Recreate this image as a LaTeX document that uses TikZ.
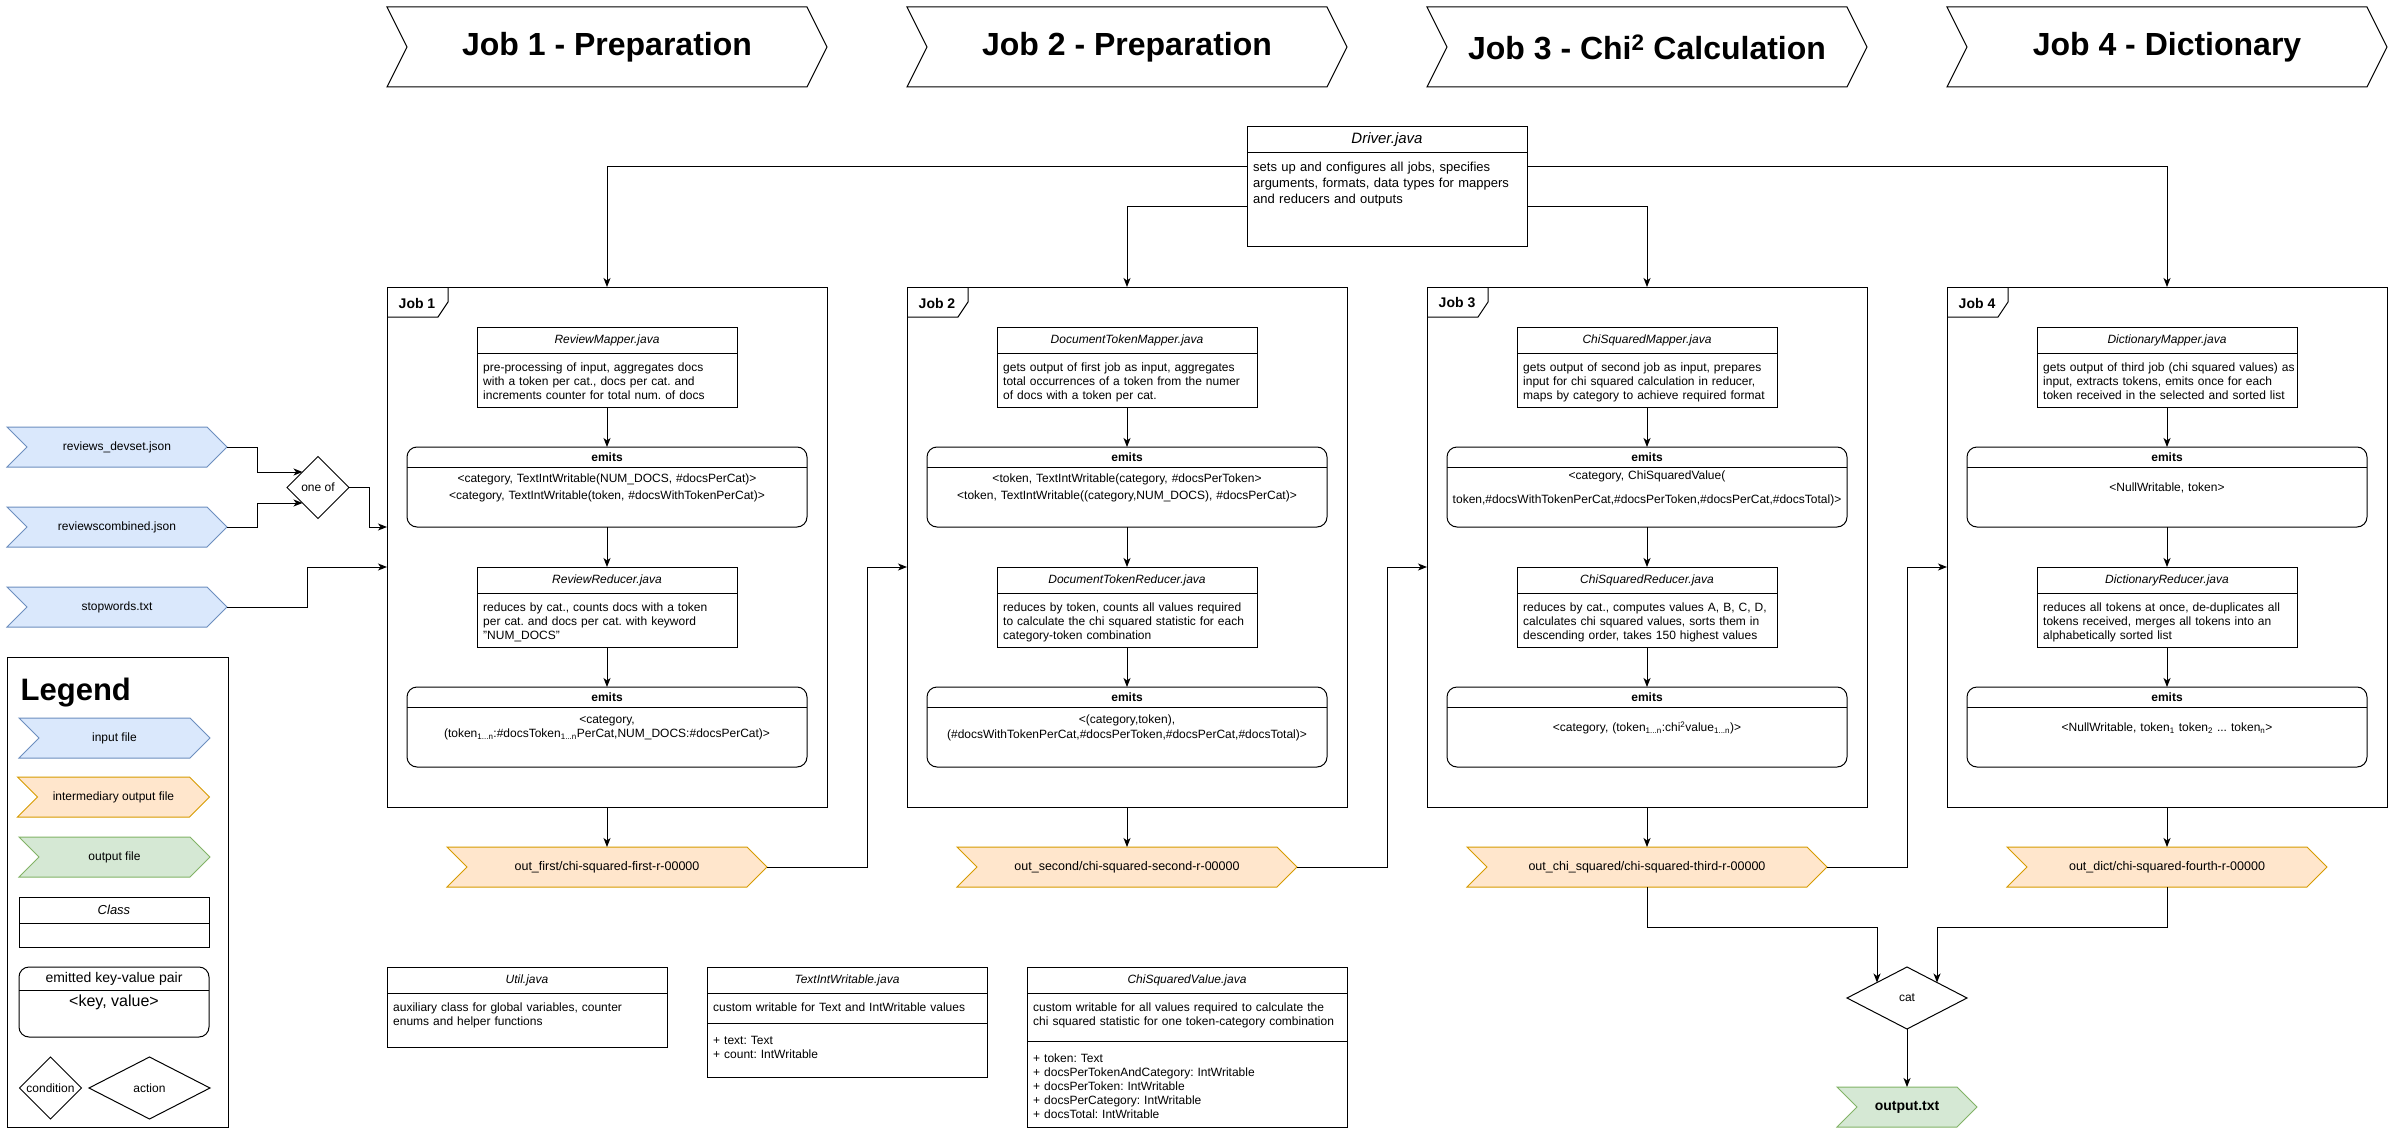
\documentclass[tikz,border=0pt]{standalone}
\usepackage{fontspec}
\setmainfont{Liberation Sans}
\frenchspacing
\usetikzlibrary{arrows.meta,shapes.geometric,backgrounds}
\definecolor{inf}{HTML}{DAE8FC}
\definecolor{inb}{HTML}{6C8EBF}
\definecolor{midf}{HTML}{FFE6CC}
\definecolor{midb}{HTML}{D79B00}
\definecolor{outf}{HTML}{D5E8D4}
\definecolor{outb}{HTML}{82B366}
\tikzset{
  ln/.style={line width=1pt},
  arr/.style={line width=1pt,-{Stealth[length=9pt,width=7pt,inset=2.5pt]}},
  cls/.style={draw,line width=1pt,fill=white,inner sep=0pt,outer sep=0pt,rectangle},
  emit/.style={cls,rounded corners=10pt},
  ttl/.style={font=\fontsize{12}{14}\selectfont\itshape,inner sep=0pt},
  bt/.style={font=\fontsize{12}{14}\selectfont\bfseries,inner sep=0pt},
  cbody/.style={font=\fontsize{12}{14}\selectfont,align=left,text width=340pt,inner sep=0pt},
  ebody/.style={align=center,text width=420pt,inner sep=0pt},
  chev/.style={inner sep=0pt,outer sep=0pt,font=\fontsize{12}{14}\selectfont},
  infile/.style={draw=inb,fill=inf,line width=1pt},
  midfile/.style={draw=midb,fill=midf,line width=1pt},
  outfile/.style={draw=outb,fill=outf,line width=1pt},
  plainchev/.style={draw=black,fill=white,line width=1pt},
  dia/.style={diamond,draw,line width=1pt,fill=white,inner sep=0pt,outer sep=0pt,font=\fontsize{12}{14}\selectfont},
  jobbox/.style={draw,line width=1pt,minimum width=440pt,minimum height=520pt,inner sep=0pt,outer sep=0pt},
  jobtab/.style={font=\fontsize{14}{16}\selectfont\bfseries,inner sep=0pt},
}
\newcommand\hdr[1]{\raisebox{-3pt}{\fontsize{32}{38}\selectfont\bfseries #1}}
\newcommand\ofont{\fontsize{12.5}{14}\selectfont}
% name, cx, cy, w, h, tip, style, text
\newcommand\mychev[8]{%
  \node[chev,minimum width=#4,minimum height=#5] (#1) at ({#2},{#3}) {#8};
  \begin{scope}[on background layer]
    \draw[#7] (#1.north west) -- ([xshift=-#6]#1.north east) -- (#1.east) -- ([xshift=-#6]#1.south east) -- (#1.south west) -- ([xshift=#6]#1.west) -- cycle;
  \end{scope}}
% name, x, y, w, h, title, body
\newcommand\clsbox[7]{%
  \node[cls,anchor=north west,minimum width=#4,minimum height=#5] (#1) at ({#2},{#3}) {};
  \draw[ln] ([yshift=-26]#1.north west) -- ([yshift=-26]#1.north east);
  \node[ttl] (#1-t) at ([yshift=-13]#1.north) {#6};
  \node[cbody,anchor=base west] (#1-b) at ([xshift=6,yshift=-44]#1.north west) {#7};}
% name, x, y, body, baselineskip
\newcommand\emitbox[5]{%
  \node[emit,anchor=north west,minimum width=400,minimum height=80] (#1) at ({#2},{#3}) {};
  \draw[ln] ([yshift=-20]#1.north west) -- ([yshift=-20]#1.north east);
  \node[bt] (#1-t) at ([yshift=-10]#1.north) {emits};
  \node[ebody,font=\fontsize{12}{#5}\selectfont] (#1-b) at ([yshift=-41]#1.north) {#4};}
% n, x, mapper title, mapper body, emits1, skip1, reducer title, reducer body, emits2
\newcommand\jobblock[9]{%
  \node[jobbox,anchor=north west] (job#1) at ({#2},287) {};
  \draw[ln] ([xshift=61]job#1.north west) -- ++(0,15) -- ++(-10,15) -- ++(-51,0);
  \node[jobtab] (jl#1) at ([xshift=30,yshift=-16]job#1.north west) {Job #1};
  \clsbox{m#1}{#2+90}{327}{260}{80}{#3}{#4}
  \emitbox{ea#1}{#2+20}{447}{#5}{#6}
  \clsbox{r#1}{#2+90}{567}{260}{80}{#7}{#8}
  \emitbox{eb#1}{#2+20}{687}{#9}{14.5}
  \draw[arr] (m#1) -- (ea#1);
  \draw[arr] (ea#1) -- (r#1);
  \draw[arr] (r#1) -- (eb#1);}
\begin{document}
\begin{tikzpicture}[x=1pt,y=-1pt]
\useasboundingbox (0,0) rectangle (2391,1134);
\begin{scope}[on background layer]
\fill[white] (0,0) rectangle (2391,1134);
\end{scope}

% headers
\mychev{h1}{607}{47}{440}{80}{20}{plainchev}{\hdr{Job 1 - Preparation}}
\mychev{h2}{1127}{47}{440}{80}{20}{plainchev}{\hdr{Job 2 - Preparation}}
\mychev{h3}{1647}{47}{440}{80}{20}{plainchev}{\hdr{Job 3 - Chi\textsuperscript{2} Calculation}}
\mychev{h4}{2167}{47}{440}{80}{20}{plainchev}{\hdr{Job 4 - Dictionary}}

% driver
\node[cls,anchor=north west,minimum width=280,minimum height=120] (drv) at (1247,127) {};
\draw[ln] ([yshift=-26]drv.north west) -- ([yshift=-26]drv.north east);
\node[ttl,font=\fontsize{15}{18}\selectfont\itshape] (drv-t) at ([yshift=-13]drv.north) {Driver.java};
\node[cbody,font=\fontsize{13}{16}\selectfont,anchor=base west] (drv-b) at ([xshift=6,yshift=-45]drv.north west) {sets up and configures all jobs, specifies\\arguments, formats, data types for mappers\\and reducers and outputs};

% jobs
\jobblock{1}{387}{ReviewMapper.java}{pre-processing of input, aggregates docs\\with a token per cat., docs per cat. and\\increments counter for total num. of docs}{<category, TextIntWritable(NUM\_DOCS, \#docsPerCat)>\\<category, TextIntWritable(token, \#docsWithTokenPerCat)>}{17.5}{ReviewReducer.java}{reduces by cat., counts docs with a token\\per cat. and docs per cat. with keyword\\"NUM\_DOCS"}{<category,\\(token\textsubscript{1...n}:\#docsToken\textsubscript{1...n}PerCat,NUM\_DOCS:\#docsPerCat)>}
\jobblock{2}{907}{DocumentTokenMapper.java}{gets output of first job as input, aggregates\\total occurrences of a token from the numer\\of docs with a token per cat.}{<token, TextIntWritable(category, \#docsPerToken>\\<token, TextIntWritable((category,NUM\_DOCS), \#docsPerCat)>}{17.5}{DocumentTokenReducer.java}{reduces by token, counts all values required\\to calculate the chi squared statistic for each\\category-token combination}{<(category,token),\\(\#docsWithTokenPerCat,\#docsPerToken,\#docsPerCat,\#docsTotal)>}
\jobblock{3}{1427}{ChiSquaredMapper.java}{gets output of second job as input, prepares\\input for chi squared calculation in reducer,\\maps by category to achieve required format}{<category, ChiSquaredValue(\\token,\#docsWithTokenPerCat,\#docsPerToken,\#docsPerCat,\#docsTotal)>}{24}{ChiSquaredReducer.java}{reduces by cat., computes values A, B, C, D,\\calculates chi squared values, sorts them in\\descending order, takes 150 highest values}{<category, (token\textsubscript{1...n}:chi\textsuperscript{2}value\textsubscript{1...n})>}
\jobblock{4}{1947}{DictionaryMapper.java}{gets output of third job (chi squared values) as\\input, extracts tokens, emits once for each\\token received in the selected and sorted list}{<NullWritable, token>}{14}{DictionaryReducer.java}{reduces all tokens at once, de-duplicates all\\tokens received, merges all tokens into an\\alphabetically sorted list}{<NullWritable, token\textsubscript{1} token\textsubscript{2} ... token\textsubscript{n}>}

% driver connectors
\draw[arr] ([yshift=20]drv.west) -| (job1.north);
\draw[arr] ([yshift=-20]drv.west) -| (job2.north);
\draw[arr] ([yshift=-20]drv.east) -| (job3.north);
\draw[arr] ([yshift=20]drv.east) -| (job4.north);

% inputs
\mychev{in1}{117}{447}{220}{40}{20}{infile}{reviews\_devset.json}
\mychev{in2}{117}{527}{220}{40}{20}{infile}{reviewscombined.json}
\mychev{in3}{117}{607}{220}{40}{20}{infile}{stopwords.txt}
\node[dia,minimum width=62,minimum height=62] (oneof) at (318,487.5) {one of};
\draw[arr] (in1.east) -- ++(30,0) |- (oneof.north west);
\draw[arr] (in2.east) -- ++(30,0) |- (oneof.south west);
\draw[arr] (oneof.east) -- ++(20,0) |- ([yshift=20]job1.west);
\draw[arr] (in3.east) -- ++(80,0) |- ([yshift=-20]job1.west);

% outputs
\mychev{out1}{607}{867}{320}{40}{20}{midfile}{\ofont out\_first/chi-squared-first-r-00000}
\mychev{out2}{1127}{867}{340}{40}{20}{midfile}{\ofont out\_second/chi-squared-second-r-00000}
\mychev{out3}{1647}{867}{360}{40}{20}{midfile}{\ofont out\_chi\_squared/chi-squared-third-r-00000}
\mychev{out4}{2167}{867}{320}{40}{20}{midfile}{\ofont out\_dict/chi-squared-fourth-r-00000}
\draw[arr] (job1) -- (out1);
\draw[arr] (job2) -- (out2);
\draw[arr] (job3) -- (out3);
\draw[arr] (job4) -- (out4);
\draw[arr] (out1.east) -- ++(100,0) |- ([yshift=-20]job2.west);
\draw[arr] (out2.east) -- ++(90,0) |- ([yshift=-20]job3.west);
\draw[arr] (out3.east) -- ++(80,0) |- ([yshift=-20]job4.west);

\node[dia,minimum width=120,minimum height=62] (cat) at (1907,998) {cat};
\draw[arr] (out3.south) -- ++(0,40) -| (cat.north west);
\draw[arr] (out4.south) -- ++(0,40) -| (cat.north east);
\mychev{otxt}{1907}{1107}{140}{40}{20}{outfile}{\fontsize{14}{16}\selectfont\bfseries output.txt}
\draw[arr] (cat) -- (otxt);

% auxiliary classes
\clsbox{util}{387}{967}{280}{80}{Util.java}{auxiliary class for global variables, counter\\enums and helper functions}
\clsbox{tiw}{707}{967}{280}{110}{TextIntWritable.java}{custom writable for Text and IntWritable values}
\draw[ln] ([yshift=-56]tiw.north west) -- ([yshift=-56]tiw.north east);
\node[cbody,anchor=base west] (tiw-a) at ([xshift=6,yshift=-77]tiw.north west) {+ text: Text\\+ count: IntWritable};
\clsbox{csv}{1027}{967}{320}{160}{ChiSquaredValue.java}{custom writable for all values required to calculate the\\chi squared statistic for one token-category combination}
\draw[ln] ([yshift=-74]csv.north west) -- ([yshift=-74]csv.north east);
\node[cbody,anchor=base west] (csv-a) at ([xshift=6,yshift=-95.5]csv.north west) {+ token: Text\\+ docsPerTokenAndCategory: IntWritable\\+ docsPerToken: IntWritable\\+ docsPerCategory: IntWritable\\+ docsTotal: IntWritable};

% legend
\node[draw,line width=1pt,anchor=north west,minimum width=221,minimum height=470,inner sep=0pt,outer sep=0pt] (leg) at (7,657) {};
\node[font=\fontsize{31}{36}\selectfont\bfseries,anchor=base west,inner sep=0pt] (legt) at (20.5,700) {Legend};
\mychev{lin}{114.5}{738}{191}{40}{20}{infile}{input file}
\mychev{lmid}{113.5}{797}{192}{40}{20}{midfile}{intermediary output file}
\mychev{lout}{114.5}{857}{191}{40}{20}{outfile}{output file}
\node[cls,anchor=north west,minimum width=190,minimum height=50] (lcls) at (19,897) {};
\draw[ln] ([yshift=-26]lcls.north west) -- ([yshift=-26]lcls.north east);
\node[ttl,font=\fontsize{13}{15}\selectfont\itshape] (lcls-t) at ([yshift=-13]lcls.north) {Class};
\node[emit,anchor=north west,minimum width=190,minimum height=70] (lkv) at (19,967) {};
\draw[ln] ([yshift=-23.5]lkv.north west) -- ([yshift=-23.5]lkv.north east);
\node[inner sep=0pt,font=\fontsize{14}{16}\selectfont] (lkv-t) at ([yshift=-12]lkv.north) {emitted key-value pair};
\node[inner sep=0pt,font=\fontsize{16}{18}\selectfont] (lkv-b) at ([yshift=-35]lkv.north) {<key, value>};
\node[dia,minimum width=62,minimum height=62] (lcond) at (50.5,1088) {condition};
\node[dia,minimum width=121,minimum height=62] (lact) at (149.5,1088) {action};
\end{tikzpicture}
\end{document}
